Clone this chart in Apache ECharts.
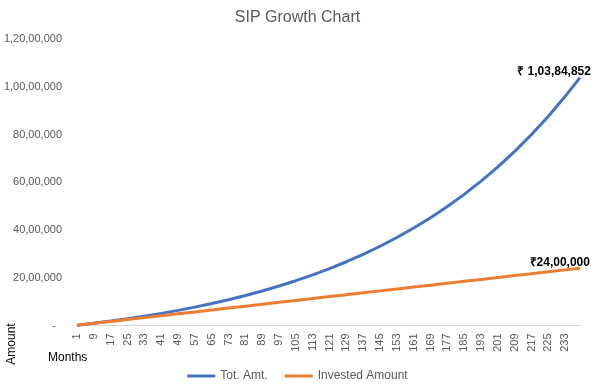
<!DOCTYPE html>
<html>
<head>
<meta charset="utf-8">
<script src="https://cdn.jsdelivr.net/npm/echarts@6/dist/echarts.min.js"></script>
<style>html,body{margin:0;padding:0;background:#fff}#c{width:595px;height:387px}</style>
</head>
<body>
<div id="c"></div>
<script>
var sampleMonths = [1,9,17,25,33,41,49,57,65,73,81,89,97,105,113,121,129,137,145,153,161,169,177,185,193,201,209,217,225,233,240];
var totalAmount = [10000,93800,184770,283490,390650,507000,633200,770200,919000,1080400,1255700,1445900,1652400,1876500,2119800,2383800,2670400,2981500,3319200,3685700,4083500,4515300,4984000,5492800,6045000,6644400,7295100,8001300,8767700,9599800,10384852];
var investedAmount = [10000,90000,170000,250000,330000,410000,490000,570000,650000,730000,810000,890000,970000,1050000,1130000,1210000,1290000,1370000,1450000,1530000,1610000,1690000,1770000,1850000,1930000,2010000,2090000,2170000,2250000,2330000,2400000];
var totalMonths = 240;
var months = [];
for (var i = 1; i <= totalMonths; i++) months.push(String(i));
var yTicks = {min: 0, max: 12000000, interval: 2000000};
var totalLabel = '₹ 1,03,84,852';
var investedLabel = '₹24,00,000';

function inr(n){
  var s = String(Math.round(n));
  if (s.length <= 3) return s;
  var last3 = s.slice(-3), rest = s.slice(0, -3);
  rest = rest.replace(/\B(?=(\d{2})+(?!\d))/g, ',');
  return rest + ',' + last3;
}
function pairs(vals){
  return sampleMonths.map(function(m, k){ return [String(m), vals[k]]; });
}
var FONT = 'Liberation Sans';
var chart = echarts.init(document.getElementById('c'));
var option = {
  backgroundColor: '#fff',
  animation: false,
  textStyle: {fontFamily: FONT},
  title: {text: 'SIP Growth Chart', left: 'center', top: 5,
    textStyle: {fontFamily: FONT, fontSize: 16, fontWeight: 'normal', color: '#595959'}},
  grid: {left: 76, right: 14, top: 39, bottom: 61.5},
  legend: {top: 365, left: 'center', itemWidth: 28, itemHeight: 3, itemGap: 17, icon: 'rect',
    textStyle: {fontFamily: FONT, fontSize: 12, color: '#595959'},
    data: ['Tot. Amt.', 'Invested Amount']},
  xAxis: {type: 'category', data: months, boundaryGap: true,
    axisLine: {lineStyle: {color: '#D9D9D9'}},
    axisTick: {show: false},
    axisLabel: {interval: 7, rotate: 90, margin: 8, fontSize: 11, color: '#595959', fontFamily: FONT}},
  yAxis: {type: 'value', min: yTicks.min, max: yTicks.max, interval: yTicks.interval,
    splitLine: {show: false}, axisLine: {show: false}, axisTick: {show: false},
    axisLabel: {margin: 14, fontSize: 11, color: '#595959', fontFamily: FONT,
      formatter: function(v){ return v === 0 ? '-  ' : inr(v); }}},
  series: [
    {name: 'Tot. Amt.', type: 'line', data: pairs(totalAmount), showSymbol: false,
      lineStyle: {width: 3, color: '#4472C4'}, itemStyle: {color: '#4472C4'}},
    {name: 'Invested Amount', type: 'line', data: pairs(investedAmount), showSymbol: false,
      lineStyle: {width: 3, color: '#ED7D31'}, itemStyle: {color: '#ED7D31'}}
  ]
};
chart.setOption(option);
var lastM = String(sampleMonths[sampleMonths.length - 1]);
var pT = chart.convertToPixel({gridIndex: 0}, [lastM, totalAmount[totalAmount.length - 1]]);
var pI = chart.convertToPixel({gridIndex: 0}, [lastM, investedAmount[investedAmount.length - 1]]);
chart.setOption({graphic: [
  {type: 'text', x: pT[0] + 11, y: pT[1] - 6, style: {text: totalLabel, align: 'right', verticalAlign: 'middle',
    font: 'bold 12px ' + FONT, fill: '#000'}},
  {type: 'text', x: pI[0] + 10, y: pI[1] - 6, style: {text: investedLabel, align: 'right', verticalAlign: 'middle',
    font: 'bold 12px ' + FONT, fill: '#000'}},
  {type: 'text', x: 48, y: 358, style: {text: 'Months', verticalAlign: 'middle', font: '12px ' + FONT, fill: '#000'}},
  {type: 'text', x: 12, y: 344, rotation: Math.PI / 2, style: {text: 'Amount', align: 'center', verticalAlign: 'middle',
    font: '12px ' + FONT, fill: '#000'}}
]});
</script>
</body>
</html>
